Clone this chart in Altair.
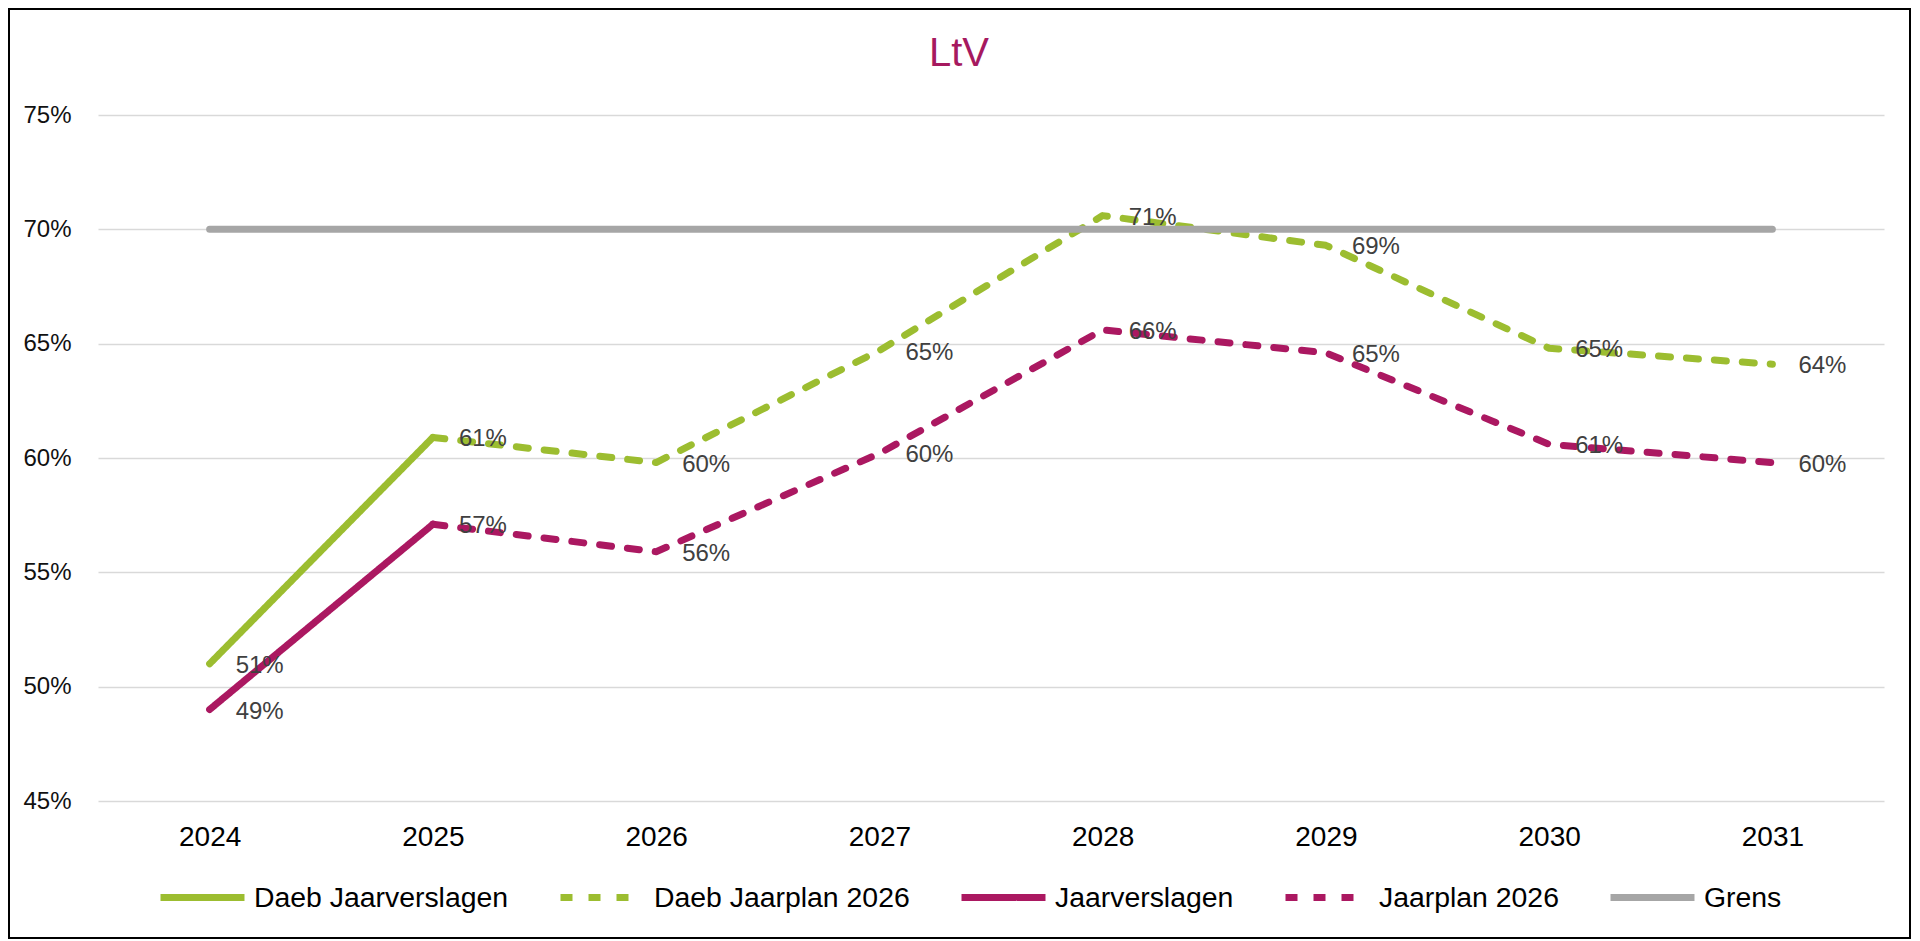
import altair as alt
import pandas as pd

# ---- data ----
title_text = "LtV"
years = ["2024", "2025", "2026", "2027", "2028", "2029", "2030", "2031"]

series_names = ["Daeb Jaarverslagen", "Daeb Jaarplan 2026", "Jaarverslagen", "Jaarplan 2026", "Grens"]
series_colors = ["#9CBD30", "#9CBD30", "#AB1861", "#AB1861", "#A6A6A6"]
series_dash = [[1, 0], [12, 16], [1, 0], [12, 16], [1, 0]]

daeb_jaarverslagen_years = ["2024", "2025"]
daeb_jaarverslagen = [51.0, 60.9]

daeb_jaarplan_years = ["2025", "2026", "2027", "2028", "2029", "2030", "2031"]
daeb_jaarplan = [60.9, 59.8, 64.7, 70.6, 69.3, 64.8, 64.1]

jaarverslagen_years = ["2024", "2025"]
jaarverslagen = [49.0, 57.1]

jaarplan_years = ["2025", "2026", "2027", "2028", "2029", "2030", "2031"]
jaarplan = [57.1, 55.9, 60.2, 65.6, 64.6, 60.6, 59.8]

grens_years = ["2024", "2025", "2026", "2027", "2028", "2029", "2030", "2031"]
grens = [70, 70, 70, 70, 70, 70, 70, 70]

y_ticks = [45, 50, 55, 60, 65, 70, 75]

# labelled points: solid series only at their first year, dashed series everywhere
rows = []
for name, yrs, vals in [
    ("Daeb Jaarverslagen", daeb_jaarverslagen_years, daeb_jaarverslagen),
    ("Daeb Jaarplan 2026", daeb_jaarplan_years, daeb_jaarplan),
    ("Jaarverslagen", jaarverslagen_years, jaarverslagen),
    ("Jaarplan 2026", jaarplan_years, jaarplan),
    ("Grens", grens_years, grens),
]:
    for i, (yr, v) in enumerate(zip(yrs, vals)):
        if name == "Grens":
            show = False
        elif name in ("Daeb Jaarverslagen", "Jaarverslagen"):
            show = i == 0
        else:
            show = True
        rows.append({"series": name, "year": yr, "value": v, "show": show})
df = pd.DataFrame(rows)

FONT = "Liberation Sans, Arial"
W, H = 1786, 686

x_enc = alt.X("year:O", sort=years,
              scale=alt.Scale(domain=years, padding=0.5),
              axis=alt.Axis(title=None, labelAngle=0, ticks=False, domain=False,
                            grid=False, labelFontSize=28, labelColor="#000000",
                            labelFont=FONT, labelBaseline="alphabetic",
                            labelPadding=44))
y_enc = alt.Y("value:Q",
              scale=alt.Scale(domain=[45, 75], nice=False, zero=False),
              axis=alt.Axis(title=None, values=y_ticks, ticks=False, domain=False,
                            grid=True, gridColor="#D9D9D9", gridWidth=1.5,
                            labelFontSize=24, labelColor="#111111", labelFont=FONT,
                            labelPadding=27, labelExpr="datum.value + '%'"))

lines = alt.Chart(df).mark_line(strokeWidth=7, strokeCap="round", strokeJoin="round").encode(
    x=x_enc,
    y=y_enc,
    color=alt.Color("series:N",
                    scale=alt.Scale(domain=series_names, range=series_colors),
                    legend=alt.Legend(title=None, orient="none", direction="horizontal",
                                      legendX=59, legendY=737,
                                      symbolType="stroke", symbolSize=84 * 84,
                                      symbolStrokeWidth=7, labelFontSize=28.4,
                                      labelFont=FONT, labelColor="#000000",
                                      labelOffset=6, columnPadding=37,
                                      labelLimit=400)),
    strokeDash=alt.StrokeDash("series:N",
                              scale=alt.Scale(domain=series_names, range=series_dash),
                              legend=None),
    order=alt.Order("year:O"),
    detail="series:N",
)

# draw order: Grens on top of the other lines
lines_main = lines.transform_filter("datum.series != 'Grens'")
lines_grens = lines.transform_filter("datum.series == 'Grens'")

labels = alt.Chart(df).transform_filter("datum.show").transform_calculate(
    label="round(datum.value) + '%'"
).mark_text(
    align="left", baseline="middle", dx=26, dy=2, fontSize=24, font=FONT, color="#404040"
).encode(
    x=alt.X("year:O", sort=years, scale=alt.Scale(domain=years, padding=0.5)),
    y=alt.Y("value:Q", scale=alt.Scale(domain=[45, 75], nice=False, zero=False)),
    text=alt.Text("label:N"),
)

title = alt.Chart(alt.Data(values=[{"t": title_text}])).mark_text(
    align="center", baseline="alphabetic", fontSize=40, font=FONT, color="#A6195F"
).encode(text="t:N", x=alt.value(861), y=alt.value(-49))

frame = alt.Chart(alt.Data(values=[{"f": 1}])).mark_rect(
    filled=False, stroke="#000000", strokeWidth=2
).encode(x=alt.value(-89), x2=alt.value(1812), y=alt.value(-106), y2=alt.value(823))

chart = alt.layer(frame, lines_main, lines_grens, labels, title).properties(
    width=W, height=H,
    padding={"left": 90, "top": 107, "right": 28, "bottom": 140},
    autosize=alt.AutoSizeParams(type="none"),
).configure(background="white").configure_view(strokeWidth=0)

chart.save("out.html", embed_options={"renderer": "svg", "actions": False})
